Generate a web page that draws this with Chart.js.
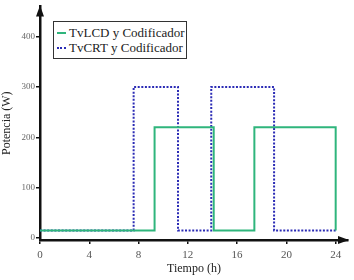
<!DOCTYPE html>
<html><head><meta charset="utf-8">
<script src="https://cdn.jsdelivr.net/npm/chart.js@4"></script>
<style>
html,body{margin:0;padding:0;background:#fff;}
#wrap{position:relative;width:354px;height:280px;}
#legend{position:absolute;left:53px;top:21px;width:134px;height:38px;border:1.5px solid #333;background:#fff;font-family:'Liberation Serif',serif;font-size:13px;color:#222;box-sizing:border-box;padding:3px 0 0 3px;line-height:15px;}
.row{display:flex;align-items:center;white-space:nowrap;}
.sw{width:9px;height:0;margin-right:3px;}
</style></head>
<body><div id="wrap"><canvas id="c" width="354" height="280"></canvas>
<div id="legend"></div></div>
<script>
const seriesNames = ["TvLCD y Codificador", "TvCRT y Codificador"];
const lcdTimes = [0, 9.3, 14.1, 17.4, 24];
const lcdPower = [15, 220, 15, 220, 15];
const crtTimes = [0, 7.6, 11.2, 13.9, 19.0, 24];
const crtPower = [15, 300, 15, 300, 15, 15];
const xTicks = [0, 4, 8, 12, 16, 20, 24];
const yTicks = [0, 100, 200, 300, 400];

const serif = "'Liberation Serif', serif";
const green = '#2fb57c', blue = '#2b2bb5';
const toPts = (t, v) => t.map((x, i) => ({x: x, y: v[i]}));

const arrows = {
  id: 'arrows',
  afterDraw(chart) {
    const ctx = chart.ctx, a = chart.chartArea;
    const yb = chart.scales.x.top, xl = chart.scales.y.right;
    ctx.save(); ctx.fillStyle = '#111';
    ctx.beginPath(); ctx.moveTo(xl, a.top - 1); ctx.lineTo(xl - 4, a.top + 10); ctx.lineTo(xl + 4, a.top + 10); ctx.closePath(); ctx.fill();
    ctx.beginPath(); ctx.moveTo(a.right + 1, yb); ctx.lineTo(a.right - 10, yb - 4); ctx.lineTo(a.right - 10, yb + 4); ctx.closePath(); ctx.fill();
    ctx.restore();
  }
};

function draw() {
new Chart(document.getElementById('c'), {
  type: 'line',
  data: { datasets: [
    { label: seriesNames[0], data: toPts(lcdTimes, lcdPower), stepped: 'before', borderColor: green, borderWidth: 2, pointRadius: 0, fill: false },
    { label: seriesNames[1], data: toPts(crtTimes, crtPower), stepped: 'before', borderColor: blue, borderWidth: 2, borderDash: [2, 1.6], pointRadius: 0, fill: false }
  ]},
  options: {
    responsive: false, animation: false,
    layout: { padding: { left: 0, right: 6, top: 3, bottom: 0 } },
    plugins: { legend: { display: false }, tooltip: { enabled: false } },
    scales: {
      x: { type: 'linear', min: 0, max: 25,
        afterBuildTicks: s => { s.ticks = xTicks.map(v => ({value: v})); },
        afterFit: s => { s.height = 40; },
        border: { color: '#111', width: 2.5 },
        grid: { drawOnChartArea: false, drawTicks: true, tickLength: 4, color: '#111', lineWidth: 1.5 },
        ticks: { color: '#555', font: { family: serif, size: 11 }, padding: 5 },
        title: { display: true, text: 'Tiempo (h)', color: '#222', font: { family: serif, size: 12 }, padding: { top: 0, bottom: 4 } }
      },
      y: { min: -4, max: 460,
        afterBuildTicks: s => { s.ticks = yTicks.map(v => ({value: v})); },
        afterFit: s => { s.width = 40; },
        border: { color: '#111', width: 2.5 },
        grid: { drawOnChartArea: false, drawTicks: true, tickLength: 4, color: '#111', lineWidth: 1.5 },
        ticks: { color: '#666', font: { family: serif, size: 9 }, padding: 1 },
        title: { display: true, text: 'Potencia (W)', color: '#222', font: { family: serif, size: 12 }, padding: { top: 0, bottom: 0 } }
      }
    }
  },
  plugins: [arrows]
});
}

const lg = document.getElementById('legend');
[[seriesNames[0], '2.5px solid ' + green], [seriesNames[1], '2px dotted ' + blue]].forEach(([t, b]) => {
  const r = document.createElement('div'); r.className = 'row';
  const s = document.createElement('span'); s.className = 'sw'; s.style.borderTop = b;
  const tx = document.createElement('span'); tx.textContent = t;
  r.appendChild(s); r.appendChild(tx); lg.appendChild(r);
});

document.fonts.load("12px 'Liberation Serif'").then(draw, draw);
</script></body></html>
